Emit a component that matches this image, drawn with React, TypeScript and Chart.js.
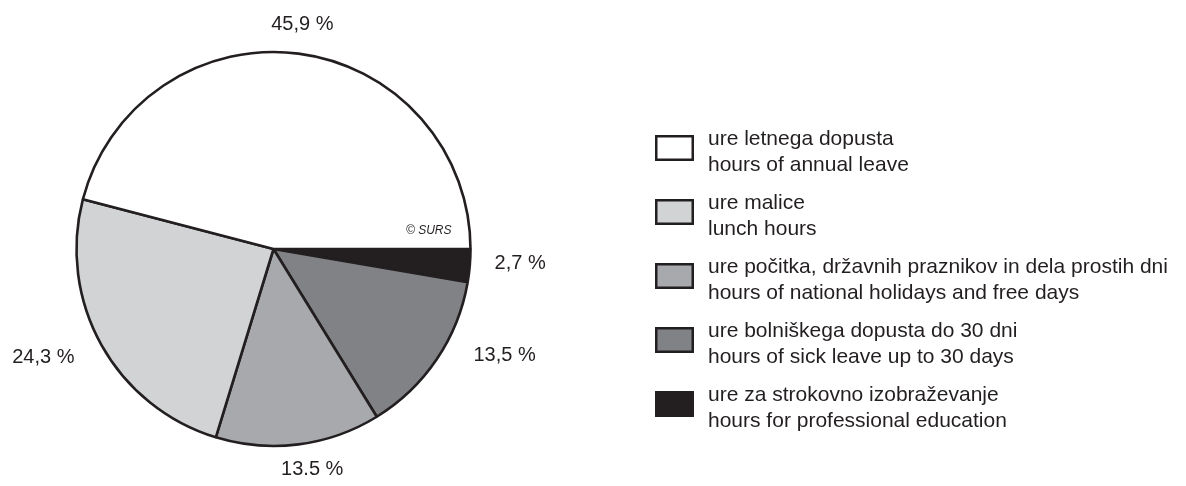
import React, { useEffect, useRef } from "react";
import { Chart, registerables } from "chart.js";

Chart.register(...registerables);

// ---- data (legend order) ----
const categoriesSl = [
  "ure letnega dopusta",
  "ure malice",
  "ure počitka, državnih praznikov in dela prostih dni",
  "ure bolniškega dopusta do 30 dni",
  "ure za strokovno izobraževanje",
];
const categoriesEn = [
  "hours of annual leave",
  "lunch hours",
  "hours of national holidays and free days",
  "hours of sick leave up to 30 days",
  "hours for professional education",
];
const shares = [45.9, 24.3, 13.5, 13.5, 2.7];
const valueLabels = ["45,9 %", "24,3 %", "13.5 %", "13,5 %", "2,7 %"];
const sliceColors = ["#ffffff", "#d1d3d4", "#a7a9ac", "#808285", "#231f20"];
const sourceNote = "© SURS";

// ---- layout / style ----
const INK = "#231f20";
const FONT = "'Liberation Sans', Arial, Helvetica, sans-serif";
// label placement relative to pie centre: CCW angle in degrees, extra distance beyond radius
const LABEL_PLACEMENT = [
  { angle: 82.7, extra: 30 },
  { angle: 205.0, extra: 57 },
  { angle: 280.0, extra: 26 },
  { angle: 335.5, extra: 57 },
  { angle: 356.8, extra: 50 },
];
const LEGEND = { x: 655, top: 135, step: 64, boxW: 39, boxH: 26, textX: 708, line1: 9.5, line2: 35.5 };

const overlayPlugin = {
  id: "overlay",
  afterDraw(chart: any) {
    const ctx = chart.ctx as CanvasRenderingContext2D;
    const meta = chart.getDatasetMeta(0);
    const n = shares.length;
    ctx.save();
    ctx.fillStyle = INK;
    // value labels
    ctx.font = `20px ${FONT}`;
    ctx.textAlign = "center";
    ctx.textBaseline = "middle";
    for (let i = 0; i < n; i++) {
      const arc = meta.data[n - 1 - i] as any;
      const cx = arc.x;
      const cy = arc.y;
      const r = arc.outerRadius;
      const p = LABEL_PLACEMENT[i];
      const a = (p.angle * Math.PI) / 180;
      const d = r + p.extra;
      ctx.fillText(valueLabels[i], cx + d * Math.cos(a), cy - d * Math.sin(a) + 1);
    }
    // source note inside the pie
    {
      const arc = meta.data[0] as any;
      ctx.font = `italic 12px ${FONT}`;
      ctx.textAlign = "right";
      ctx.textBaseline = "middle";
      ctx.fillText(sourceNote, arc.x + arc.outerRadius - 19, arc.y - 18);
    }
    // legend
    for (let i = 0; i < n; i++) {
      const top = LEGEND.top + i * LEGEND.step;
      ctx.fillStyle = sliceColors[i];
      ctx.fillRect(LEGEND.x, top, LEGEND.boxW, LEGEND.boxH);
      ctx.strokeStyle = INK;
      ctx.lineWidth = 2.5;
      ctx.strokeRect(LEGEND.x + 1.25, top + 1.25, LEGEND.boxW - 2.5, LEGEND.boxH - 2.5);
      ctx.fillStyle = INK;
      ctx.font = `21px ${FONT}`;
      ctx.textAlign = "left";
      ctx.textBaseline = "alphabetic";
      ctx.fillText(categoriesSl[i], LEGEND.textX, top + LEGEND.line1);
      ctx.fillText(categoriesEn[i], LEGEND.textX, top + LEGEND.line2);
    }
    ctx.restore();
  },
};

export default function App() {
  const ref = useRef<HTMLCanvasElement | null>(null);
  useEffect(() => {
    if (!ref.current) return;
    const order = shares.map((_, i) => shares.length - 1 - i);
    const chart = new Chart(ref.current, {
      type: "pie",
      data: {
        labels: order.map((i) => categoriesEn[i]),
        datasets: [
          {
            data: order.map((i) => shares[i]),
            backgroundColor: order.map((i) => sliceColors[i]),
            borderColor: INK,
            borderWidth: 2.6,
            radius: 197,
          } as any,
        ],
      },
      options: {
        responsive: false,
        animation: false,
        rotation: 90,
        layout: { padding: { left: 75, top: 51, right: 714, bottom: 39 } },
        plugins: { legend: { display: false }, tooltip: { enabled: false } },
      },
      plugins: [overlayPlugin],
    });
    return () => chart.destroy();
  }, []);
  return (
    <div style={{ position: "fixed", left: 0, top: 0, width: 1186, height: 486, background: "#fff" }}>
      <canvas ref={ref} width={1186} height={486} />
    </div>
  );
}
